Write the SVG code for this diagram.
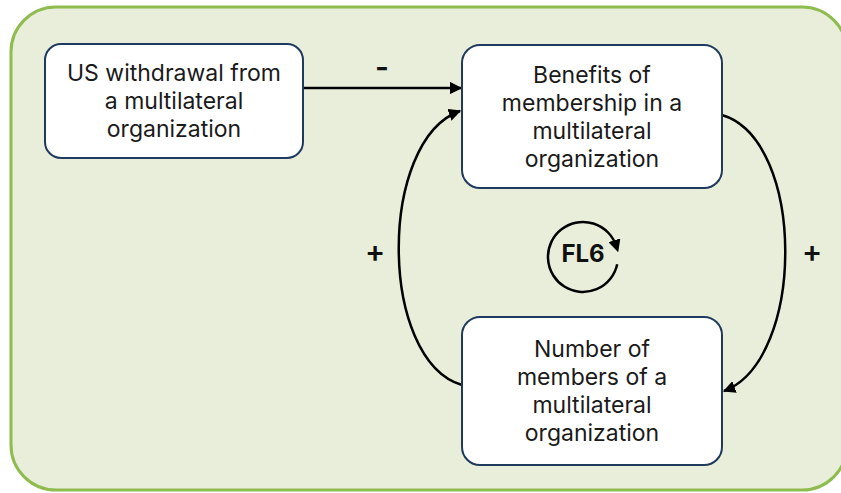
<svg xmlns="http://www.w3.org/2000/svg" width="841" height="493" viewBox="0 0 841 493">
<defs>
<style>
.bg{fill:#e8eed9;stroke:#8fbc4f;stroke-width:3}
.node{fill:#ffffff;stroke:#1f3a5f;stroke-width:2}
.t{font-family:Inter,"Liberation Sans",sans-serif;font-size:23px;fill:#1a1a1a;text-anchor:middle}
.lbl{font-family:Inter,"Liberation Sans",sans-serif;font-size:30px;font-weight:600;fill:#111;text-anchor:middle}
.c{fill:none;stroke:#000;stroke-width:2.5}
</style>
<marker id="ah" viewBox="0 0 10 10" refX="9" refY="5" markerWidth="5" markerHeight="5" orient="auto" markerUnits="strokeWidth">
<path d="M0,0 L10,5 L0,10 z" fill="#000"/>
</marker>
<marker id="ahs" viewBox="0 0 10 10" refX="5" refY="5" markerWidth="5" markerHeight="5" orient="auto" markerUnits="strokeWidth">
<path d="M0,0 L10,5 L0,10 z" fill="#000"/>
</marker>
</defs>
<rect class="bg" x="11" y="7" width="836" height="483" rx="45"/>
<g id="connectors">
<line class="c" x1="303" y1="88" x2="461" y2="88" marker-end="url(#ah)"/>
<path class="c" d="M462,385 C378,360 378,140 460,111" marker-end="url(#ah)"/>
<path class="c" d="M722,115 C806,140 806,360 724,391" marker-end="url(#ah)"/>
<text class="lbl" x="382" y="78">-</text>
<text class="lbl" x="375" y="262">+</text>
<text class="lbl" x="812" y="262">+</text>
</g>
<g id="loop-FL6">
<path class="c" d="M617.2,264.3 A35,35 0 1 1 616.3,246.2" stroke-width="2" marker-end="url(#ahs)"/>
<text x="583" y="262" style="font-family:Inter,'Liberation Sans',sans-serif;font-size:24px;font-weight:bold;fill:#111;text-anchor:middle">FL6</text>
</g>
<g id="node-us-withdrawal">
<rect class="node" x="45" y="44" width="258" height="114" rx="16"/>
<text class="t"><tspan x="174" y="81">US withdrawal from</tspan><tspan x="174" y="109">a multilateral</tspan><tspan x="174" y="137">organization</tspan></text>
</g>
<g id="node-benefits">
<rect class="node" x="462" y="45" width="260" height="143" rx="18"/>
<text class="t"><tspan x="592" y="83">Benefits of</tspan><tspan x="592" y="111">membership in a</tspan><tspan x="592" y="139">multilateral</tspan><tspan x="592" y="167">organization</tspan></text>
</g>
<g id="node-members">
<rect class="node" x="462" y="317" width="260" height="148" rx="18"/>
<text class="t"><tspan x="592" y="357">Number of</tspan><tspan x="592" y="385">members of a</tspan><tspan x="592" y="413">multilateral</tspan><tspan x="592" y="441">organization</tspan></text>
</g>
</svg>
